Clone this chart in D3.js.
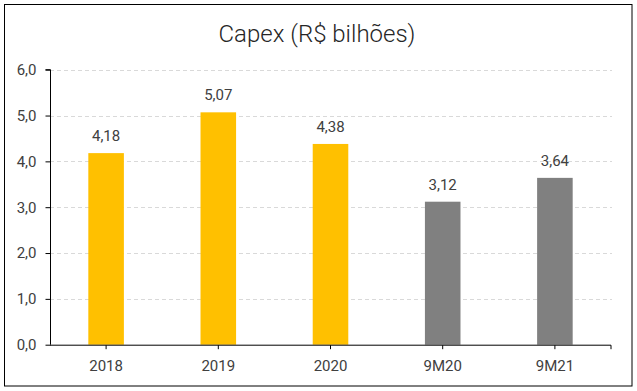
<!DOCTYPE html>
<html><head><meta charset="utf-8">
<script src="https://cdn.jsdelivr.net/npm/d3@7"></script>
<style>
body{margin:0;background:#fff;}
text{font-family:Roboto,"Noto Sans",sans-serif;}
</style></head>
<body><svg id="c" width="637" height="391"></svg>
<script>
const categories = ["2018","2019","2020","9M20","9M21"];
const values = [4.18, 5.07, 4.38, 3.12, 3.64];
const barColors = ["#FFC000","#FFC000","#FFC000","#808080","#808080"];
const yTicks = [0,1,2,3,4,5,6];
const title = "Capex (R$ bilhões)";

const svg = d3.select("#c");
svg.append("rect").attr("x",4.5).attr("y",4.5).attr("width",627.5).attr("height",381.5)
  .attr("fill","#fff").attr("stroke","#000").attr("stroke-width",1);

const pL=50, pR=611, pT=69.7, pB=344.7;
const x = d3.scaleBand().domain(categories).range([pL,pR]).paddingInner(0.683).paddingOuter(0.3415);
const y = d3.scaleLinear().domain([0,6]).range([pB,pT]);
const fmt = v => d3.format(".1f")(v).replace(".",",");
const fmt2 = v => d3.format(".2f")(v).replace(".",",");

svg.append("text").attr("x",317).attr("y",42).attr("text-anchor","middle")
  .attr("font-size",24).attr("font-weight",300).attr("fill","#262626").text(title);

// grid
svg.append("g").selectAll("line").data(yTicks.filter(d=>d>0)).join("line")
  .attr("x1",pL).attr("x2",pR+1).attr("y1",d=>Math.round(y(d))+0.5).attr("y2",d=>Math.round(y(d))+0.5)
  .attr("stroke","#d9d9d9").attr("stroke-dasharray","4,3");

// bars
svg.append("g").selectAll("rect").data(categories).join("rect")
  .attr("x",d=>x(d)).attr("width",x.bandwidth())
  .attr("y",(d,i)=>y(values[i])).attr("height",(d,i)=>y(0)-y(values[i]))
  .attr("fill",(d,i)=>barColors[i]);

// value labels
svg.append("g").selectAll("text").data(categories).join("text")
  .attr("x",d=>x(d)+x.bandwidth()/2).attr("y",(d,i)=>y(values[i])-12)
  .attr("text-anchor","middle").attr("font-size",15).attr("fill","#404040")
  .text((d,i)=>fmt2(values[i]));

// y axis
const yAxis = d3.axisLeft(y).tickValues(yTicks).tickFormat(fmt).tickSize(5).tickPadding(9);
const gy = svg.append("g").attr("transform",`translate(${pL+0.5},0)`).call(yAxis);
gy.select(".domain").attr("stroke","#000").attr("d",`M-5,${pT}H0V${pB}`);
gy.selectAll(".tick line").attr("stroke","#000");
gy.selectAll(".tick text").attr("font-size",15).attr("fill","#404040").attr("font-family","Roboto,sans-serif");

// x axis
const xAxis = d3.axisBottom(x).tickSize(4).tickSizeOuter(4).tickPadding(11);
const gx = svg.append("g").attr("transform",`translate(0,${pB+0.5})`).call(xAxis);
gx.select(".domain").attr("stroke","#000").attr("d",`M${pL},0H${pR}V4`);
gx.selectAll(".tick line").attr("stroke","#000");
gx.selectAll(".tick text").attr("font-size",15).attr("fill","#404040").attr("font-family","Roboto,sans-serif");
</script></body></html>
